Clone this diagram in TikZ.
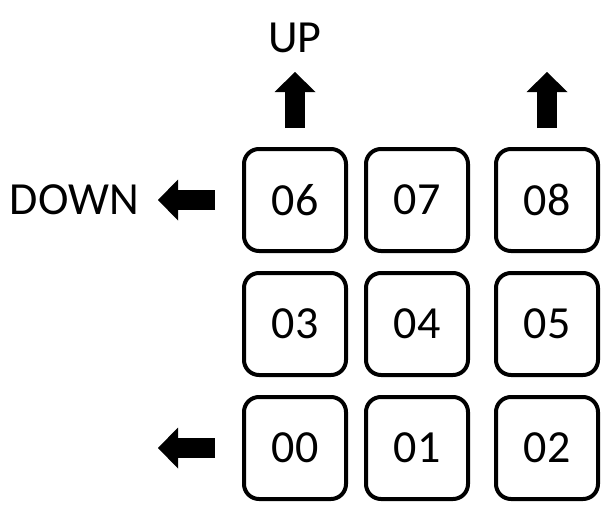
\documentclass[tikz,border=0pt]{standalone}
\usepackage{fontspec}
\setmainfont{Carlito}
\usetikzlibrary{arrows.meta, positioning}

\begin{document}
\begin{tikzpicture}[
      x=1pt, y=-1pt,
      node distance=18pt and 16pt,
      cell/.style={rectangle, draw, line width=4pt, rounded corners=15pt,
                   minimum size=102pt, inner sep=0pt,
                   font=\fontsize{46}{52}\selectfont},
      lbl/.style={inner sep=0pt, font=\fontsize{46}{52}\selectfont},
      fat/.style={line width=20pt,
                  -{Triangle[length=20pt, width=41pt, line width=0pt]}}
    ]

    \useasboundingbox (0,0) rectangle (614,525);

    \node[cell] at (295,200) (n06) {06};
    \node[cell, right=of n06] (n07) {07};
    \node[cell, right=24pt of n07] (n08) {08};
    \node[cell, below=of n06] (n03) {03};
    \node[cell, below=of n07] (n04) {04};
    \node[cell, below=of n08] (n05) {05};
    \node[cell, below=of n03] (n00) {00};
    \node[cell, below=of n04] (n01) {01};
    \node[cell, below=of n05] (n02) {02};

    \coordinate[above=75pt of n06.north] (upL);
    \coordinate[above=75pt of n08.north] (upR);
    \coordinate[left=84pt of n06.west] (leftT);
    \coordinate[left=84pt of n00.west] (leftB);

    \node[lbl, above=19pt of upL] (up) {UP};
    \node[lbl, left=19pt of leftT] (down) {DOWN};

    \draw[fat, shorten <=19pt] (n06.north) -- (upL);
    \draw[fat, shorten <=19pt] (n08.north) -- (upR);
    \draw[fat, shorten <=27pt] (n06.west) -- (leftT);
    \draw[fat, shorten <=27pt] (n00.west) -- (leftB);

  \end{tikzpicture}
\end{document}
